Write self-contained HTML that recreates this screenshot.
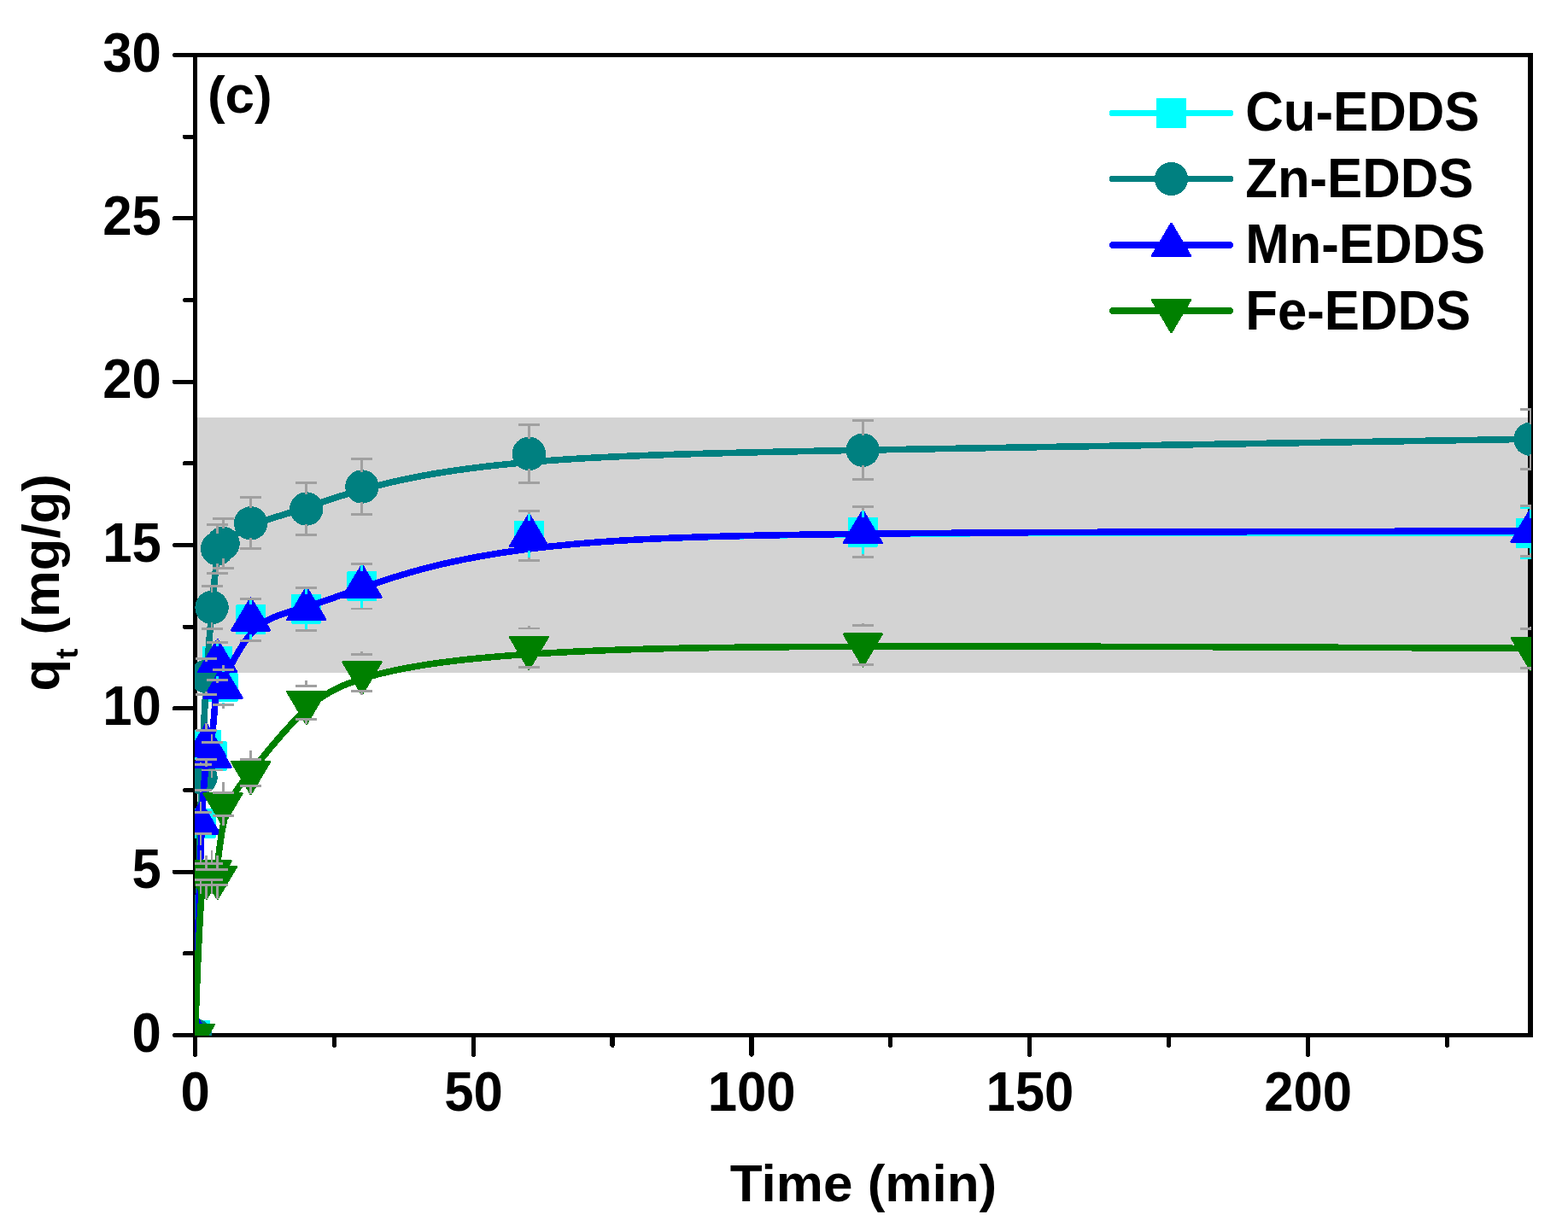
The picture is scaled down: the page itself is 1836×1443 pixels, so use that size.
<!DOCTYPE html>
<html lang="en"><head><meta charset="utf-8"><title>Adsorption kinetics (c)</title>
<style>html,body{margin:0;padding:0;background:#fff;overflow:hidden;}svg{display:block;}</style></head>
<body>
<svg width="1836" height="1443" viewBox="0 0 1836 1443" font-family="'Liberation Sans', sans-serif" font-weight="bold" font-size="61.7" fill="#000" shape-rendering="crispEdges">
<rect width="1836" height="1443" fill="#fff"/>
<defs><clipPath id="plot"><rect x="228" y="64.5" width="1565" height="1148.5"/></clipPath></defs>
<rect x="228.5" y="489.2" width="1563.5" height="298.3" fill="#d3d3d3"/>
<g stroke="#000" stroke-width="5.3" fill="none" stroke-linecap="round">
<rect x="228.5" y="64.5" width="1563.5" height="1148" stroke-linejoin="miter"/>
<line x1="228" y1="1212.5" x2="204.65" y2="1212.5"/>
<line x1="228" y1="1116.83" x2="216.55" y2="1116.83"/>
<line x1="228" y1="1021.17" x2="204.65" y2="1021.17"/>
<line x1="228" y1="925.5" x2="216.55" y2="925.5"/>
<line x1="228" y1="829.83" x2="204.65" y2="829.83"/>
<line x1="228" y1="734.17" x2="216.55" y2="734.17"/>
<line x1="228" y1="638.5" x2="204.65" y2="638.5"/>
<line x1="228" y1="542.83" x2="216.55" y2="542.83"/>
<line x1="228" y1="447.17" x2="204.65" y2="447.17"/>
<line x1="228" y1="351.5" x2="216.55" y2="351.5"/>
<line x1="228" y1="255.83" x2="204.65" y2="255.83"/>
<line x1="228" y1="160.17" x2="216.55" y2="160.17"/>
<line x1="228" y1="64.5" x2="204.65" y2="64.5"/>
<line x1="228.5" y1="1213" x2="228.5" y2="1235.15"/>
<line x1="391.36" y1="1213" x2="391.36" y2="1224.25"/>
<line x1="554.23" y1="1213" x2="554.23" y2="1235.15"/>
<line x1="717.09" y1="1213" x2="717.09" y2="1224.25"/>
<line x1="879.96" y1="1213" x2="879.96" y2="1235.15"/>
<line x1="1042.82" y1="1213" x2="1042.82" y2="1224.25"/>
<line x1="1205.69" y1="1213" x2="1205.69" y2="1235.15"/>
<line x1="1368.55" y1="1213" x2="1368.55" y2="1224.25"/>
<line x1="1531.42" y1="1213" x2="1531.42" y2="1235.15"/>
<line x1="1694.28" y1="1213" x2="1694.28" y2="1224.25"/>
</g>
<g clip-path="url(#plot)">
<path d="M228.5,1212.5 L229.3,1182.52 L230.06,1154.57 L230.8,1128.58 L231.5,1104.46 L232.17,1082.14 L232.82,1061.55 L233.44,1042.6 L234.03,1025.22 L234.6,1009.33 L235.14,994.86 L235.67,981.73 L236.17,969.86 L236.65,959.17 L237.11,949.59 L237.56,941.04 L237.99,933.44 L238.41,926.72 L238.81,920.8 L239.19,915.61 L239.57,911.06 L239.94,907.07 L240.29,903.58 L240.64,900.51 L240.99,897.77 L241.32,895.31 L241.65,893.08 L241.98,891.08 L242.3,889.28 L242.62,887.66 L242.93,886.2 L243.24,884.89 L243.54,883.69 L243.84,882.6 L244.14,881.59 L244.43,880.65 L244.72,879.74 L245.01,878.86 L245.29,877.98 L245.57,877.09 L245.85,876.15 L246.13,875.16 L246.41,874.1 L246.68,872.93 L246.96,871.66 L247.23,870.24 L247.5,868.67 L247.77,866.92 L248.04,864.97 L248.32,862.82 L248.59,860.47 L248.86,857.94 L249.13,855.26 L249.4,852.43 L249.67,849.49 L249.94,846.44 L250.22,843.32 L250.49,840.13 L250.76,836.9 L251.03,833.65 L251.3,830.39 L251.57,827.15 L251.84,823.94 L252.12,820.79 L252.39,817.71 L252.66,814.72 L252.93,811.84 L253.2,809.1 L253.47,806.5 L253.74,804.08 L254.02,801.84 L254.29,799.81 L254.56,798.01 L254.83,796.45 L255.1,795.11 L255.38,793.99 L255.66,793.06 L255.95,792.3 L256.25,791.7 L256.57,791.23 L256.89,790.88 L257.23,790.64 L257.59,790.47 L257.96,790.38 L258.36,790.32 L258.78,790.3 L259.22,790.28 L259.69,790.26 L260.19,790.21 L260.72,790.11 L261.28,789.95 L261.87,789.71 L262.5,789.37 L263.17,788.92 L263.88,788.32 L264.62,787.58 L265.42,786.66 L266.25,785.55 L267.14,784.27 L268.06,782.82 L269.04,781.22 L270.06,779.48 L271.13,777.61 L272.25,775.63 L273.42,773.54 L274.63,771.37 L275.9,769.12 L277.22,766.81 L278.58,764.45 L280,762.05 L281.47,759.63 L282.99,757.2 L284.56,754.76 L286.18,752.34 L287.86,749.95 L289.59,747.59 L291.38,745.29 L293.22,743.05 L295.12,740.89 L297.07,738.81 L299.07,736.85 L301.14,734.99 L303.26,733.24 L305.43,731.6 L307.65,730.05 L309.91,728.6 L312.22,727.24 L314.58,725.95 L316.97,724.74 L319.4,723.6 L321.87,722.52 L324.37,721.5 L326.9,720.53 L329.46,719.61 L332.04,718.73 L334.65,717.88 L337.28,717.06 L339.93,716.26 L342.59,715.48 L345.27,714.71 L347.96,713.95 L350.66,713.18 L353.37,712.41 L356.08,711.63 L358.79,710.82 L361.51,710 L364.23,709.15 L366.98,708.27 L369.75,707.37 L372.56,706.43 L375.42,705.46 L378.33,704.47 L381.31,703.44 L384.37,702.37 L387.51,701.27 L390.74,700.13 L394.08,698.95 L397.53,697.73 L401.1,696.46 L404.81,695.16 L408.66,693.81 L412.65,692.41 L416.81,690.97 L421.14,689.47 L425.65,687.93 L430.34,686.34 L435.23,684.69 L440.34,682.99 L445.65,681.23 L451.2,679.42 L456.99,677.55 L463.04,675.64 L469.38,673.7 L476.02,671.72 L482.98,669.71 L490.27,667.69 L497.93,665.65 L505.96,663.6 L514.39,661.55 L523.24,659.51 L532.51,657.48 L542.24,655.46 L552.44,653.47 L563.14,651.51 L574.34,649.59 L586.06,647.71 L598.34,645.87 L611.18,644.09 L624.6,642.37 L638.63,640.72 L653.28,639.15 L668.57,637.65 L684.52,636.24 L701.18,634.91 L718.75,633.68 L737.45,632.54 L757.51,631.48 L779.15,630.5 L802.6,629.6 L828.08,628.78 L855.83,628.04 L886.07,627.36 L919.02,626.76 L954.91,626.23 L993.96,625.76 L1036.41,625.35 L1082.48,625 L1132.4,624.72 L1186.39,624.48 L1244.67,624.31 L1307.48,624.18 L1375.04,624.1 L1447.57,624.06 L1525.31,624.07 L1608.48,624.13 L1697.3,624.22 L1792,624.34" fill="none" stroke="#00ffff" stroke-width="7.6" stroke-linejoin="round" stroke-linecap="round"/>
<rect x="212.3" y="1196.3" width="32.4" height="32.4" fill="#00ffff" stroke="#00ffff" stroke-width="2.6" stroke-linejoin="round"/>
<rect x="218.81" y="948.14" width="32.4" height="32.4" fill="#00ffff" stroke="#00ffff" stroke-width="2.6" stroke-linejoin="round"/>
<rect x="225.33" y="856.49" width="32.4" height="32.4" fill="#00ffff" stroke="#00ffff" stroke-width="2.6" stroke-linejoin="round"/>
<rect x="231.84" y="869.5" width="32.4" height="32.4" fill="#00ffff" stroke="#00ffff" stroke-width="2.6" stroke-linejoin="round"/>
<rect x="238.36" y="758.15" width="32.4" height="32.4" fill="#00ffff" stroke="#00ffff" stroke-width="2.6" stroke-linejoin="round"/>
<rect x="244.87" y="788.76" width="32.4" height="32.4" fill="#00ffff" stroke="#00ffff" stroke-width="2.6" stroke-linejoin="round"/>
<rect x="277.45" y="709.55" width="32.4" height="32.4" fill="#00ffff" stroke="#00ffff" stroke-width="2.6" stroke-linejoin="round"/>
<rect x="342.59" y="696.92" width="32.4" height="32.4" fill="#00ffff" stroke="#00ffff" stroke-width="2.6" stroke-linejoin="round"/>
<rect x="407.74" y="670.52" width="32.4" height="32.4" fill="#00ffff" stroke="#00ffff" stroke-width="2.6" stroke-linejoin="round"/>
<rect x="603.17" y="611.2" width="32.4" height="32.4" fill="#00ffff" stroke="#00ffff" stroke-width="2.6" stroke-linejoin="round"/>
<rect x="994.05" y="606.99" width="32.4" height="32.4" fill="#00ffff" stroke="#00ffff" stroke-width="2.6" stroke-linejoin="round"/>
<rect x="1775.8" y="608.14" width="32.4" height="32.4" fill="#00ffff" stroke="#00ffff" stroke-width="2.6" stroke-linejoin="round"/>
<path d="M228.5,1212.5 L229.3,1176.01 L230.06,1141.95 L230.8,1110.22 L231.5,1080.72 L232.17,1053.36 L232.82,1028.04 L233.44,1004.66 L234.03,983.11 L234.6,963.31 L235.14,945.16 L235.67,928.54 L236.17,913.38 L236.65,899.56 L237.11,886.99 L237.56,875.58 L237.99,865.22 L238.41,855.81 L238.81,847.26 L239.19,839.47 L239.57,832.34 L239.94,825.77 L240.29,819.66 L240.64,813.91 L240.99,808.44 L241.32,803.14 L241.65,798.01 L241.98,793.03 L242.3,788.2 L242.62,783.52 L242.93,778.97 L243.24,774.55 L243.54,770.26 L243.84,766.09 L244.14,762.03 L244.43,758.07 L244.72,754.22 L245.01,750.46 L245.29,746.79 L245.57,743.2 L245.85,739.69 L246.13,736.24 L246.41,732.86 L246.68,729.54 L246.96,726.27 L247.23,723.04 L247.5,719.85 L247.77,716.69 L248.04,713.57 L248.32,710.46 L248.59,707.38 L248.86,704.32 L249.13,701.3 L249.4,698.31 L249.67,695.37 L249.94,692.46 L250.22,689.6 L250.49,686.79 L250.76,684.04 L251.03,681.34 L251.3,678.7 L251.57,676.13 L251.84,673.63 L252.12,671.2 L252.39,668.84 L252.66,666.57 L252.93,664.37 L253.2,662.27 L253.47,660.25 L253.74,658.33 L254.02,656.51 L254.29,654.79 L254.56,653.17 L254.83,651.66 L255.1,650.25 L255.38,648.95 L255.66,647.73 L255.95,646.6 L256.25,645.55 L256.57,644.57 L256.89,643.66 L257.23,642.81 L257.59,642.02 L257.96,641.28 L258.36,640.59 L258.78,639.93 L259.22,639.31 L259.69,638.72 L260.19,638.15 L260.72,637.59 L261.28,637.04 L261.87,636.5 L262.5,635.96 L263.17,635.41 L263.88,634.84 L264.62,634.26 L265.42,633.65 L266.25,633.02 L267.14,632.35 L268.06,631.66 L269.04,630.94 L270.06,630.2 L271.13,629.44 L272.25,628.65 L273.42,627.85 L274.63,627.03 L275.9,626.2 L277.22,625.36 L278.58,624.5 L280,623.64 L281.47,622.76 L282.99,621.88 L284.56,621 L286.18,620.12 L287.86,619.23 L289.59,618.35 L291.38,617.47 L293.22,616.59 L295.12,615.72 L297.07,614.86 L299.07,614.01 L301.14,613.17 L303.26,612.34 L305.43,611.52 L307.65,610.71 L309.91,609.91 L312.22,609.11 L314.58,608.32 L316.97,607.53 L319.4,606.75 L321.87,605.96 L324.37,605.18 L326.9,604.39 L329.46,603.61 L332.04,602.82 L334.65,602.02 L337.28,601.23 L339.93,600.42 L342.59,599.61 L345.27,598.78 L347.96,597.95 L350.66,597.11 L353.37,596.25 L356.08,595.38 L358.79,594.49 L361.51,593.59 L364.23,592.68 L366.98,591.74 L369.75,590.79 L372.56,589.82 L375.42,588.84 L378.33,587.84 L381.31,586.82 L384.37,585.78 L387.51,584.73 L390.74,583.65 L394.08,582.56 L397.53,581.45 L401.1,580.32 L404.81,579.17 L408.66,578 L412.65,576.81 L416.81,575.6 L421.14,574.37 L425.65,573.11 L430.34,571.84 L435.23,570.55 L440.34,569.23 L445.65,567.9 L451.2,566.54 L456.99,565.16 L463.04,563.77 L469.38,562.37 L476.02,560.96 L482.98,559.54 L490.27,558.12 L497.93,556.7 L505.96,555.28 L514.39,553.87 L523.24,552.47 L532.51,551.09 L542.24,549.72 L552.44,548.37 L563.14,547.05 L574.34,545.76 L586.06,544.49 L598.34,543.26 L611.18,542.06 L624.6,540.9 L638.63,539.79 L653.28,538.72 L668.57,537.71 L684.52,536.74 L701.18,535.83 L718.75,534.97 L737.45,534.15 L757.51,533.37 L779.15,532.61 L802.6,531.88 L828.08,531.16 L855.83,530.45 L886.07,529.73 L919.02,529.01 L954.91,528.28 L993.96,527.53 L1036.41,526.74 L1082.48,525.93 L1132.4,525.07 L1186.39,524.16 L1244.67,523.19 L1307.48,522.17 L1375.04,521.07 L1447.57,519.89 L1525.31,518.64 L1608.48,517.29 L1697.3,515.84 L1792,514.29" fill="none" stroke="#008080" stroke-width="7.6" stroke-linejoin="round" stroke-linecap="round"/>
<circle cx="228.5" cy="1212.5" r="19.7" fill="#008080"/>
<circle cx="235.01" cy="910.58" r="19.7" fill="#008080"/>
<circle cx="241.53" cy="792.33" r="19.7" fill="#008080"/>
<circle cx="248.04" cy="711.59" r="19.7" fill="#008080"/>
<circle cx="254.56" cy="642.71" r="19.7" fill="#008080"/>
<circle cx="261.07" cy="636.59" r="19.7" fill="#008080"/>
<circle cx="293.65" cy="612.86" r="19.7" fill="#008080"/>
<circle cx="358.79" cy="596.02" r="19.7" fill="#008080"/>
<circle cx="423.94" cy="570" r="19.7" fill="#008080"/>
<circle cx="619.38" cy="531.35" r="19.7" fill="#008080"/>
<circle cx="1010.25" cy="527.14" r="19.7" fill="#008080"/>
<circle cx="1792" cy="514.29" r="19.7" fill="#008080"/>
<path d="M228.5,1212.5 L229.3,1182.52 L230.06,1154.57 L230.8,1128.58 L231.5,1104.46 L232.17,1082.14 L232.82,1061.55 L233.44,1042.6 L234.03,1025.22 L234.6,1009.33 L235.14,994.86 L235.67,981.73 L236.17,969.86 L236.65,959.17 L237.11,949.59 L237.56,941.04 L237.99,933.44 L238.41,926.72 L238.81,920.8 L239.19,915.61 L239.57,911.06 L239.94,907.07 L240.29,903.58 L240.64,900.51 L240.99,897.77 L241.32,895.31 L241.65,893.08 L241.98,891.08 L242.3,889.28 L242.62,887.66 L242.93,886.2 L243.24,884.89 L243.54,883.69 L243.84,882.6 L244.14,881.59 L244.43,880.65 L244.72,879.74 L245.01,878.86 L245.29,877.98 L245.57,877.09 L245.85,876.15 L246.13,875.16 L246.41,874.1 L246.68,872.93 L246.96,871.66 L247.23,870.24 L247.5,868.67 L247.77,866.92 L248.04,864.97 L248.32,862.82 L248.59,860.47 L248.86,857.94 L249.13,855.26 L249.4,852.43 L249.67,849.49 L249.94,846.44 L250.22,843.32 L250.49,840.13 L250.76,836.9 L251.03,833.65 L251.3,830.39 L251.57,827.15 L251.84,823.94 L252.12,820.79 L252.39,817.71 L252.66,814.72 L252.93,811.84 L253.2,809.1 L253.47,806.5 L253.74,804.08 L254.02,801.84 L254.29,799.81 L254.56,798.01 L254.83,796.45 L255.1,795.11 L255.38,793.99 L255.66,793.06 L255.95,792.3 L256.25,791.7 L256.57,791.23 L256.89,790.88 L257.23,790.64 L257.59,790.47 L257.96,790.38 L258.36,790.32 L258.78,790.3 L259.22,790.28 L259.69,790.26 L260.19,790.21 L260.72,790.11 L261.28,789.95 L261.87,789.71 L262.5,789.37 L263.17,788.92 L263.88,788.32 L264.62,787.58 L265.42,786.66 L266.25,785.55 L267.14,784.27 L268.06,782.82 L269.04,781.22 L270.06,779.48 L271.13,777.61 L272.25,775.63 L273.42,773.54 L274.63,771.37 L275.9,769.12 L277.22,766.81 L278.58,764.45 L280,762.05 L281.47,759.63 L282.99,757.2 L284.56,754.76 L286.18,752.34 L287.86,749.95 L289.59,747.59 L291.38,745.29 L293.22,743.05 L295.12,740.89 L297.07,738.81 L299.07,736.85 L301.14,734.99 L303.26,733.24 L305.43,731.6 L307.65,730.05 L309.91,728.6 L312.22,727.24 L314.58,725.95 L316.97,724.74 L319.4,723.6 L321.87,722.52 L324.37,721.5 L326.9,720.53 L329.46,719.61 L332.04,718.73 L334.65,717.88 L337.28,717.06 L339.93,716.26 L342.59,715.48 L345.27,714.71 L347.96,713.95 L350.66,713.18 L353.37,712.41 L356.08,711.63 L358.79,710.82 L361.51,710 L364.23,709.15 L366.98,708.27 L369.75,707.37 L372.56,706.43 L375.42,705.46 L378.33,704.47 L381.31,703.44 L384.37,702.37 L387.51,701.27 L390.74,700.13 L394.08,698.95 L397.53,697.73 L401.1,696.46 L404.81,695.16 L408.66,693.81 L412.65,692.41 L416.81,690.97 L421.14,689.47 L425.65,687.93 L430.34,686.34 L435.23,684.69 L440.34,682.99 L445.65,681.23 L451.2,679.42 L456.99,677.55 L463.04,675.64 L469.38,673.7 L476.02,671.72 L482.98,669.71 L490.27,667.69 L497.93,665.65 L505.96,663.6 L514.39,661.55 L523.24,659.51 L532.51,657.48 L542.24,655.46 L552.44,653.47 L563.14,651.51 L574.34,649.59 L586.06,647.71 L598.34,645.87 L611.18,644.09 L624.6,642.37 L638.63,640.72 L653.28,639.15 L668.57,637.65 L684.52,636.24 L701.18,634.91 L718.75,633.68 L737.45,632.53 L757.51,631.47 L779.15,630.48 L802.6,629.57 L828.08,628.72 L855.83,627.95 L886.07,627.24 L919.02,626.59 L954.91,626 L993.96,625.47 L1036.41,624.99 L1082.48,624.55 L1132.4,624.16 L1186.39,623.8 L1244.67,623.49 L1307.48,623.21 L1375.04,622.96 L1447.57,622.74 L1525.31,622.54 L1608.48,622.36 L1697.3,622.19 L1792,622.05" fill="none" stroke="#0000ff" stroke-width="7.6" stroke-linejoin="round" stroke-linecap="round"/>
<polygon points="228.5,1187.43 250.8,1225.03 206.2,1225.03" fill="#0000ff" stroke="#0000ff" stroke-width="2.6" stroke-linejoin="round"/>
<polygon points="235.01,939.27 257.31,976.87 212.71,976.87" fill="#0000ff" stroke="#0000ff" stroke-width="2.6" stroke-linejoin="round"/>
<polygon points="241.53,847.63 263.83,885.23 219.23,885.23" fill="#0000ff" stroke="#0000ff" stroke-width="2.6" stroke-linejoin="round"/>
<polygon points="248.04,860.64 270.34,898.24 225.74,898.24" fill="#0000ff" stroke="#0000ff" stroke-width="2.6" stroke-linejoin="round"/>
<polygon points="254.56,749.28 276.86,786.88 232.26,786.88" fill="#0000ff" stroke="#0000ff" stroke-width="2.6" stroke-linejoin="round"/>
<polygon points="261.07,779.89 283.37,817.49 238.77,817.49" fill="#0000ff" stroke="#0000ff" stroke-width="2.6" stroke-linejoin="round"/>
<polygon points="293.65,700.68 315.95,738.28 271.35,738.28" fill="#0000ff" stroke="#0000ff" stroke-width="2.6" stroke-linejoin="round"/>
<polygon points="358.79,688.05 381.09,725.65 336.49,725.65" fill="#0000ff" stroke="#0000ff" stroke-width="2.6" stroke-linejoin="round"/>
<polygon points="423.94,661.65 446.24,699.25 401.64,699.25" fill="#0000ff" stroke="#0000ff" stroke-width="2.6" stroke-linejoin="round"/>
<polygon points="619.38,602.34 641.67,639.94 597.08,639.94" fill="#0000ff" stroke="#0000ff" stroke-width="2.6" stroke-linejoin="round"/>
<polygon points="1010.25,598.13 1032.55,635.73 987.95,635.73" fill="#0000ff" stroke="#0000ff" stroke-width="2.6" stroke-linejoin="round"/>
<polygon points="1792,596.98 1814.3,634.58 1769.7,634.58" fill="#0000ff" stroke="#0000ff" stroke-width="2.6" stroke-linejoin="round"/>
<path d="M228.5,1212.5 L229.3,1189.58 L230.06,1168.61 L230.8,1149.49 L231.5,1132.14 L232.17,1116.47 L232.82,1102.4 L233.44,1089.85 L234.03,1078.72 L234.6,1068.94 L235.14,1060.41 L235.67,1053.05 L236.17,1046.78 L236.65,1041.5 L237.11,1037.14 L237.56,1033.61 L237.99,1030.82 L238.41,1028.69 L238.81,1027.13 L239.19,1026.05 L239.57,1025.38 L239.94,1025.02 L240.29,1024.88 L240.64,1024.89 L240.99,1024.96 L241.32,1025.02 L241.65,1025.04 L241.98,1025.05 L242.3,1025.03 L242.62,1024.99 L242.93,1024.94 L243.24,1024.87 L243.54,1024.78 L243.84,1024.69 L244.14,1024.58 L244.43,1024.47 L244.72,1024.35 L245.01,1024.23 L245.29,1024.11 L245.57,1023.99 L245.85,1023.88 L246.13,1023.77 L246.41,1023.67 L246.68,1023.57 L246.96,1023.49 L247.23,1023.43 L247.5,1023.38 L247.77,1023.35 L248.04,1023.34 L248.32,1023.35 L248.59,1023.37 L248.86,1023.4 L249.13,1023.43 L249.4,1023.46 L249.67,1023.47 L249.94,1023.45 L250.22,1023.41 L250.49,1023.33 L250.76,1023.2 L251.03,1023.01 L251.3,1022.77 L251.57,1022.46 L251.84,1022.07 L252.12,1021.59 L252.39,1021.03 L252.66,1020.37 L252.93,1019.6 L253.2,1018.71 L253.47,1017.7 L253.74,1016.57 L254.02,1015.29 L254.29,1013.87 L254.56,1012.3 L254.83,1010.57 L255.1,1008.69 L255.38,1006.68 L255.66,1004.53 L255.95,1002.26 L256.25,999.88 L256.57,997.41 L256.89,994.85 L257.23,992.2 L257.59,989.49 L257.96,986.72 L258.36,983.9 L258.78,981.05 L259.22,978.17 L259.69,975.27 L260.19,972.36 L260.72,969.45 L261.28,966.56 L261.87,963.69 L262.5,960.86 L263.17,958.07 L263.88,955.33 L264.62,952.65 L265.42,950.05 L266.25,947.54 L267.14,945.1 L268.06,942.73 L269.04,940.42 L270.06,938.17 L271.13,935.98 L272.25,933.82 L273.42,931.71 L274.63,929.62 L275.9,927.56 L277.22,925.51 L278.58,923.48 L280,921.44 L281.47,919.41 L282.99,917.36 L284.56,915.3 L286.18,913.21 L287.86,911.09 L289.59,908.94 L291.38,906.74 L293.22,904.49 L295.12,902.19 L297.07,899.82 L299.07,897.37 L301.14,894.86 L303.26,892.27 L305.43,889.62 L307.65,886.91 L309.91,884.14 L312.22,881.34 L314.58,878.49 L316.97,875.62 L319.4,872.72 L321.87,869.8 L324.37,866.87 L326.9,863.94 L329.46,861.01 L332.04,858.08 L334.65,855.18 L337.28,852.29 L339.93,849.43 L342.59,846.61 L345.27,843.83 L347.96,841.1 L350.66,838.42 L353.37,835.81 L356.08,833.26 L358.79,830.79 L361.51,828.4 L364.23,826.09 L366.98,823.85 L369.75,821.69 L372.56,819.59 L375.42,817.56 L378.33,815.6 L381.31,813.7 L384.37,811.85 L387.51,810.06 L390.74,808.32 L394.08,806.63 L397.53,804.98 L401.1,803.38 L404.81,801.81 L408.66,800.29 L412.65,798.79 L416.81,797.33 L421.14,795.89 L425.65,794.48 L430.34,793.09 L435.23,791.72 L440.34,790.36 L445.65,789.02 L451.2,787.68 L456.99,786.36 L463.04,785.05 L469.38,783.75 L476.02,782.46 L482.98,781.2 L490.27,779.95 L497.93,778.72 L505.96,777.5 L514.39,776.32 L523.24,775.15 L532.51,774.01 L542.24,772.89 L552.44,771.8 L563.14,770.74 L574.34,769.71 L586.06,768.71 L598.34,767.75 L611.18,766.81 L624.6,765.92 L638.63,765.06 L653.28,764.23 L668.57,763.45 L684.52,762.71 L701.18,762.01 L718.75,761.35 L737.45,760.74 L757.51,760.17 L779.15,759.64 L802.6,759.17 L828.08,758.74 L855.83,758.35 L886.07,758.02 L919.02,757.74 L954.91,757.5 L993.96,757.32 L1036.41,757.19 L1082.48,757.11 L1132.4,757.09 L1186.39,757.12 L1244.67,757.21 L1307.48,757.35 L1375.04,757.55 L1447.57,757.8 L1525.31,758.12 L1608.48,758.49 L1697.3,758.93 L1792,759.42" fill="none" stroke="#008000" stroke-width="7.6" stroke-linejoin="round" stroke-linecap="round"/>
<polygon points="228.5,1237.57 250.8,1199.97 206.2,1199.97" fill="#008000" stroke="#008000" stroke-width="2.6" stroke-linejoin="round"/>
<polygon points="235.01,1046.23 257.31,1008.63 212.71,1008.63" fill="#008000" stroke="#008000" stroke-width="2.6" stroke-linejoin="round"/>
<polygon points="241.53,1052.74 263.83,1015.14 219.23,1015.14" fill="#008000" stroke="#008000" stroke-width="2.6" stroke-linejoin="round"/>
<polygon points="248.04,1046.23 270.34,1008.63 225.74,1008.63" fill="#008000" stroke="#008000" stroke-width="2.6" stroke-linejoin="round"/>
<polygon points="254.56,1052.74 276.86,1015.14 232.26,1015.14" fill="#008000" stroke="#008000" stroke-width="2.6" stroke-linejoin="round"/>
<polygon points="261.07,967.02 283.37,929.42 238.77,929.42" fill="#008000" stroke="#008000" stroke-width="2.6" stroke-linejoin="round"/>
<polygon points="293.65,929.9 315.95,892.3 271.35,892.3" fill="#008000" stroke="#008000" stroke-width="2.6" stroke-linejoin="round"/>
<polygon points="358.79,848.01 381.09,810.41 336.49,810.41" fill="#008000" stroke="#008000" stroke-width="2.6" stroke-linejoin="round"/>
<polygon points="423.94,813.19 446.24,775.59 401.64,775.59" fill="#008000" stroke="#008000" stroke-width="2.6" stroke-linejoin="round"/>
<polygon points="619.38,783.72 641.67,746.12 597.08,746.12" fill="#008000" stroke="#008000" stroke-width="2.6" stroke-linejoin="round"/>
<polygon points="1010.25,780.28 1032.55,742.68 987.95,742.68" fill="#008000" stroke="#008000" stroke-width="2.6" stroke-linejoin="round"/>
<polygon points="1792,784.49 1814.3,746.89 1769.7,746.89" fill="#008000" stroke="#008000" stroke-width="2.6" stroke-linejoin="round"/>
<g stroke="#00ffff" stroke-width="2.9" fill="none">
<path d="M235.01,953.33V946.74"/>
<path d="M235.01,975.35V981.94"/>
<path d="M241.53,857.1V855.09"/>
<path d="M241.53,888.28V890.29"/>
<path d="M248.04,870.76V868.1"/>
<path d="M248.04,900.64V903.3"/>
<path d="M254.56,753.84V756.75"/>
<path d="M254.56,794.85V791.95"/>
<path d="M261.07,785.98V787.36"/>
<path d="M261.07,823.94V822.56"/>
<path d="M293.65,702.81V708.15"/>
<path d="M293.65,748.69V743.35"/>
<path d="M358.79,689.55V695.52"/>
<path d="M358.79,736.69V730.72"/>
<path d="M423.94,661.83V669.12"/>
<path d="M423.94,711.61V704.32"/>
<path d="M619.38,599.55V609.8"/>
<path d="M619.38,655.26V645"/>
<path d="M1010.25,595.13V605.59"/>
<path d="M1010.25,651.26V640.79"/>
<path d="M1779.5,594.93H1804.5M1792,594.93V606.74"/>
<path d="M1779.5,653.75H1804.5M1792,653.75V641.94"/>
</g>
<g stroke="#a0a0a0" stroke-width="2.9" fill="none">
<path d="M222.51,895.48H247.51M235.01,895.48V893.08"/>
<path d="M222.51,925.67H247.51M235.01,925.67V928.08"/>
<path d="M229.03,771.32H254.03M241.53,771.32V774.83"/>
<path d="M229.03,813.34H254.03M241.53,813.34V809.83"/>
<path d="M235.54,686.54H260.54M248.04,686.54V694.09"/>
<path d="M235.54,736.63H260.54M248.04,736.63V729.09"/>
<path d="M242.06,614.22H267.06M254.56,614.22V625.21"/>
<path d="M242.06,671.2H267.06M254.56,671.2V660.21"/>
<path d="M248.57,607.79H273.57M261.07,607.79V619.09"/>
<path d="M248.57,665.38H273.57M261.07,665.38V654.09"/>
<path d="M281.15,582.88H306.15M293.65,582.88V595.36"/>
<path d="M281.15,642.84H306.15M293.65,642.84V630.36"/>
<path d="M346.29,565.2H371.29M358.79,565.2V578.52"/>
<path d="M346.29,626.85H371.29M358.79,626.85V613.52"/>
<path d="M411.44,537.88H436.44M423.94,537.88V552.5"/>
<path d="M411.44,602.13H436.44M423.94,602.13V587.5"/>
<path d="M606.88,497.3H631.88M619.38,497.3V513.85"/>
<path d="M606.88,565.41H631.88M619.38,565.41V548.85"/>
<path d="M997.75,492.88H1022.75M1010.25,492.88V509.64"/>
<path d="M997.75,561.41H1022.75M1010.25,561.41V544.64"/>
<path d="M1779.5,479.38H1804.5M1792,479.38V496.79"/>
<path d="M1779.5,549.2H1804.5M1792,549.2V531.79"/>
</g>
<g stroke="#a0a0a0" stroke-width="2.9" fill="none">
<path d="M222.51,951.93H247.51M235.01,951.93V938.84"/>
<path d="M222.51,976.75H247.51M235.01,976.75V989.84"/>
<path d="M229.03,855.7H254.03M241.53,855.7V847.19"/>
<path d="M229.03,889.68H254.03M241.53,889.68V898.19"/>
<path d="M235.54,869.36H260.54M248.04,869.36V860.2"/>
<path d="M235.54,902.04H260.54M248.04,902.04V911.2"/>
<path d="M242.06,752.44H267.06M254.56,752.44V748.85"/>
<path d="M242.06,796.25H267.06M254.56,796.25V799.85"/>
<path d="M248.57,784.58H273.57M261.07,784.58V779.46"/>
<path d="M248.57,825.34H273.57M261.07,825.34V830.46"/>
<path d="M281.15,701.41H306.15M293.65,701.41V700.25"/>
<path d="M281.15,750.09H306.15M293.65,750.09V751.25"/>
<path d="M346.29,688.15H371.29M358.79,688.15V687.62"/>
<path d="M346.29,738.09H371.29M358.79,738.09V738.62"/>
<path d="M411.44,660.43H436.44M423.94,660.43V661.22"/>
<path d="M411.44,713.01H436.44M423.94,713.01V712.22"/>
<path d="M606.88,598.15H631.88M619.38,598.15V601.9"/>
<path d="M606.88,656.66H631.88M619.38,656.66V652.9"/>
<path d="M997.75,593.73H1022.75M1010.25,593.73V597.69"/>
<path d="M997.75,652.66H1022.75M1010.25,652.66V648.69"/>
<path d="M1779.5,592.52H1804.5M1792,592.52V596.55"/>
<path d="M1779.5,651.57H1804.5M1792,651.57V647.55"/>
</g>
<g stroke="#a0a0a0" stroke-width="2.9" fill="none">
<path d="M222.51,1011.6H247.51M235.01,1011.6V995.67"/>
<path d="M222.51,1030.73H247.51M235.01,1030.73V1046.67"/>
<path d="M229.03,1018.43H254.03M241.53,1018.43V1002.17"/>
<path d="M229.03,1036.91H254.03M241.53,1036.91V1053.17"/>
<path d="M235.54,1011.6H260.54M248.04,1011.6V995.67"/>
<path d="M235.54,1030.73H260.54M248.04,1030.73V1046.67"/>
<path d="M242.06,1018.43H267.06M254.56,1018.43V1002.17"/>
<path d="M242.06,1036.91H267.06M254.56,1036.91V1053.17"/>
<path d="M248.57,928.43H273.57M261.07,928.43V916.45"/>
<path d="M248.57,955.48H273.57M261.07,955.48V967.45"/>
<path d="M281.15,889.45H306.15M293.65,889.45V879.34"/>
<path d="M281.15,920.22H306.15M293.65,920.22V930.34"/>
<path d="M346.29,803.47H371.29M358.79,803.47V797.45"/>
<path d="M346.29,842.42H371.29M358.79,842.42V848.45"/>
<path d="M411.44,766.9H436.44M423.94,766.9V762.62"/>
<path d="M411.44,809.34H436.44M423.94,809.34V813.62"/>
<path d="M606.88,735.97H631.88M619.38,735.97V733.16"/>
<path d="M606.88,781.35H631.88M619.38,781.35V784.16"/>
<path d="M997.75,732.35H1022.75M1010.25,732.35V729.71"/>
<path d="M997.75,778.08H1022.75M1010.25,778.08V780.71"/>
<path d="M1779.5,736.77H1804.5M1792,736.77V733.92"/>
<path d="M1779.5,782.08H1804.5M1792,782.08V784.92"/>
</g>
</g>
<text transform="translate(188.8,1231.7) scale(1,1.05)" text-anchor="end">0</text>
<text transform="translate(188.8,1040.37) scale(1,1.05)" text-anchor="end">5</text>
<text transform="translate(188.8,849.03) scale(1,1.05)" text-anchor="end">10</text>
<text transform="translate(188.8,657.7) scale(1,1.05)" text-anchor="end">15</text>
<text transform="translate(188.8,466.37) scale(1,1.05)" text-anchor="end">20</text>
<text transform="translate(188.8,275.03) scale(1,1.05)" text-anchor="end">25</text>
<text transform="translate(188.8,83.7) scale(1,1.05)" text-anchor="end">30</text>
<text transform="translate(228.7,1301.2) scale(1,1.05)" text-anchor="middle">0</text>
<text transform="translate(554.43,1301.2) scale(1,1.05)" text-anchor="middle">50</text>
<text transform="translate(880.16,1301.2) scale(1,1.05)" text-anchor="middle">100</text>
<text transform="translate(1205.89,1301.2) scale(1,1.05)" text-anchor="middle">150</text>
<text transform="translate(1531.62,1301.2) scale(1,1.05)" text-anchor="middle">200</text>
<text x="1011.0" y="1407.2" text-anchor="middle" font-size="62">Time (min)</text>
<text transform="translate(69.0,809.4) rotate(-90)">q<tspan font-size="37" dy="22">t</tspan><tspan dy="-22" dx="-1.3"> (mg/g)</tspan></text>
<text x="242.9" y="132.4" font-size="62">(c)</text>
<line x1="1302.8" y1="132.5" x2="1440.2" y2="132.5" stroke="#00ffff" stroke-width="7.6" stroke-linecap="round"/>
<rect x="1355.3" y="116.3" width="32.4" height="32.4" fill="#00ffff" stroke="#00ffff" stroke-width="2.6" stroke-linejoin="round"/>
<text transform="translate(1458.2,152.8) scale(1,1.04)" text-anchor="start">Cu-EDDS</text>
<line x1="1302.8" y1="209.5" x2="1440.2" y2="209.5" stroke="#008080" stroke-width="7.6" stroke-linecap="round"/>
<circle cx="1371.5" cy="209.5" r="19.7" fill="#008080"/>
<text transform="translate(1458.2,230.7) scale(1,1.04)" text-anchor="start">Zn-EDDS</text>
<line x1="1302.8" y1="287.0" x2="1440.2" y2="287.0" stroke="#0000ff" stroke-width="7.6" stroke-linecap="round"/>
<polygon points="1371.5,261.93 1393.8,299.53 1349.2,299.53" fill="#0000ff" stroke="#0000ff" stroke-width="2.6" stroke-linejoin="round"/>
<text transform="translate(1458.2,307.9) scale(1,1.04)" text-anchor="start">Mn-EDDS</text>
<line x1="1302.8" y1="364.0" x2="1440.2" y2="364.0" stroke="#008000" stroke-width="7.6" stroke-linecap="round"/>
<polygon points="1371.5,389.07 1393.8,351.47 1349.2,351.47" fill="#008000" stroke="#008000" stroke-width="2.6" stroke-linejoin="round"/>
<text transform="translate(1458.2,385.9) scale(1,1.04)" text-anchor="start">Fe-EDDS</text>
</svg>
</body></html>
